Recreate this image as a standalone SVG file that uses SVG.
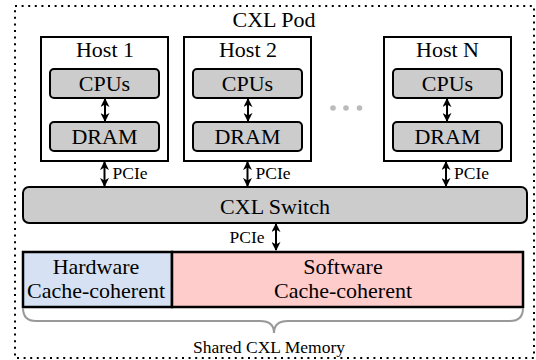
<svg xmlns="http://www.w3.org/2000/svg" width="536" height="360" viewBox="0 0 536 360">
<defs>
<marker id="ah" viewBox="0 0 10 10" refX="9" refY="5" markerWidth="4.5" markerHeight="4.5" orient="auto-start-reverse" markerUnits="strokeWidth">
<path d="M0,0 L10,5 L0,10 L3,5 z" fill="#000"/>
</marker>
<style>
text{font-family:"Liberation Serif","Times New Roman",serif;fill:#000;text-anchor:middle}
.big{font-size:22px}
.small{font-size:17.5px}
.lbl{font-size:17.5px;text-anchor:start}
.host{fill:#fff;stroke:#000;stroke-width:2}
.chip{fill:#cccccc;stroke:#000;stroke-width:2}
.arr{stroke:#000;stroke-width:2;fill:none;marker-start:url(#ah);marker-end:url(#ah)}
</style>
</defs>
<rect x="0" y="0" width="536" height="360" fill="#fff"/>
<g id="pod">
<rect x="15" y="6" width="519" height="352" fill="none" stroke="#000" stroke-width="2" stroke-dasharray="2 4.6"/>
<text class="big" x="274" y="27">CXL Pod</text>
</g>
<g id="host1">
<rect class="host" x="41" y="37" width="127" height="124"/>
<text class="big" x="105" y="57">Host 1</text>
<rect class="chip" x="50" y="69" width="109" height="29" rx="4"/>
<text class="big" x="104.5" y="91">CPUs</text>
<rect class="chip" x="50" y="122" width="109" height="29" rx="4"/>
<text class="big" x="104.5" y="144">DRAM</text>
</g>
<g id="host2">
<rect class="host" x="184" y="37" width="127" height="124"/>
<text class="big" x="248" y="57">Host 2</text>
<rect class="chip" x="193" y="69" width="109" height="29" rx="4"/>
<text class="big" x="247.5" y="91">CPUs</text>
<rect class="chip" x="193" y="122" width="109" height="29" rx="4"/>
<text class="big" x="247.5" y="144">DRAM</text>
</g>
<g id="dots" fill="#bbbbbb">
<circle cx="333" cy="108" r="2.8"/>
<circle cx="346" cy="108" r="2.8"/>
<circle cx="359.5" cy="108" r="2.8"/>
</g>
<g id="hostN">
<rect class="host" x="384" y="37" width="127" height="124"/>
<text class="big" x="447.5" y="57">Host N</text>
<rect class="chip" x="393" y="69" width="109" height="29" rx="4"/>
<text class="big" x="447.5" y="91">CPUs</text>
<rect class="chip" x="393" y="122" width="109" height="29" rx="4"/>
<text class="big" x="447.5" y="144">DRAM</text>
</g>
<g id="switch">
<rect class="chip" x="23" y="187" width="504" height="36" rx="6"/>
<text class="big" x="275" y="214">CXL Switch</text>
</g>
<g id="hw">
<rect x="23" y="252" width="149" height="55" fill="#d6e2f4" stroke="#000" stroke-width="2.5"/>
<text class="big" x="96" y="274">Hardware</text>
<text class="big" x="96" y="298">Cache-coherent</text>
</g>
<g id="sw">
<rect x="172" y="252" width="351" height="55" fill="#ffcccc" stroke="#000" stroke-width="2.5"/>
<text class="big" x="343" y="274">Software</text>
<text class="big" x="343" y="298">Cache-coherent</text>
</g>
<g id="shared">
<path d="M23,308 Q23,321 36,321 L260,321 Q274,321 274,333 Q274,321 288,321 L510,321 Q523,321 523,308" fill="none" stroke="#999999" stroke-width="2"/>
<text class="small" x="269" y="353">Shared CXL Memory</text>
</g>
<g id="connectors">
<line class="arr" x1="105" y1="99" x2="105" y2="121"/>
<line class="arr" x1="248" y1="99" x2="248" y2="121"/>
<line class="arr" x1="447" y1="99" x2="447" y2="121"/>
<line class="arr" x1="104.5" y1="162" x2="104.5" y2="186"/>
<line class="arr" x1="247.5" y1="162" x2="247.5" y2="186"/>
<line class="arr" x1="446" y1="162" x2="446" y2="186"/>
<line class="arr" x1="276" y1="224" x2="276" y2="250"/>
<text class="lbl" x="112.5" y="179">PCIe</text>
<text class="lbl" x="255.5" y="179">PCIe</text>
<text class="lbl" x="454" y="179">PCIe</text>
<text class="lbl" x="229.5" y="243">PCIe</text>
</g>
</svg>
